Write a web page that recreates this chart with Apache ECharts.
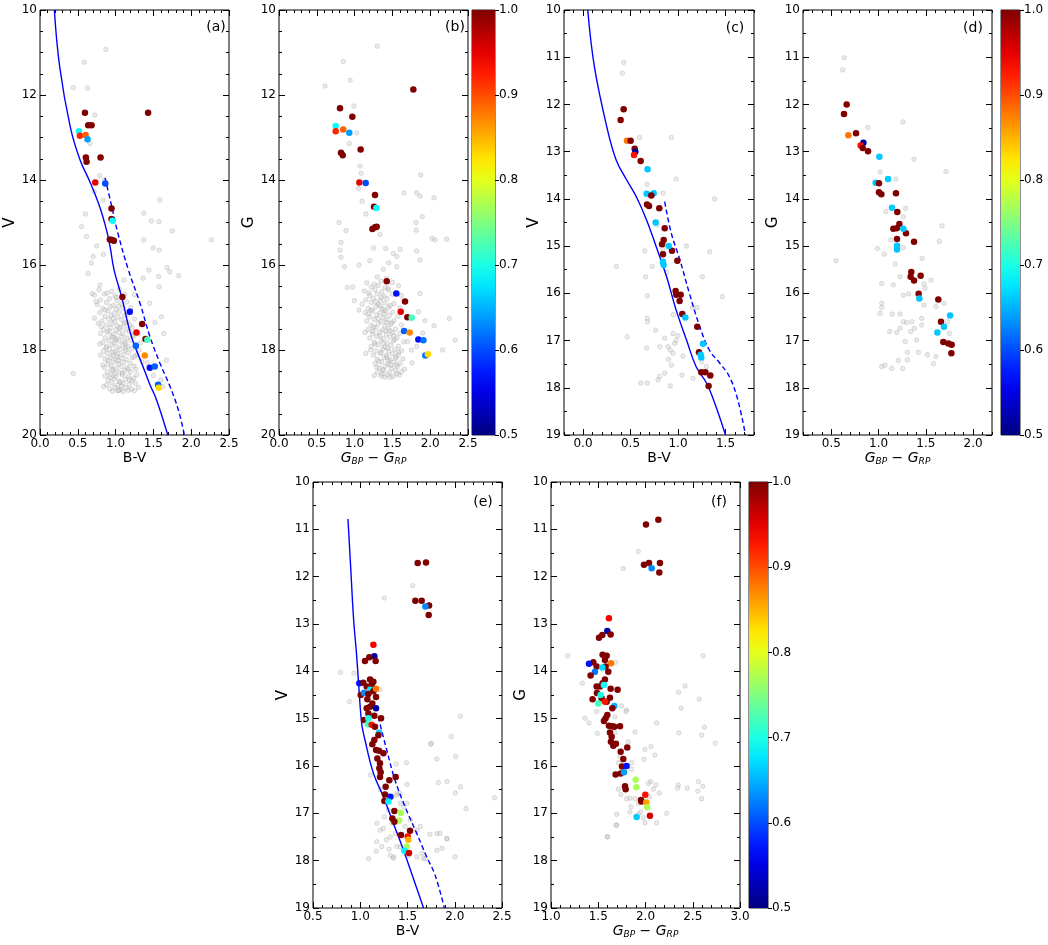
<!DOCTYPE html>
<html>
<head>
<meta charset="utf-8">
<script src="https://cdn.jsdelivr.net/npm/echarts@6.0.0/dist/echarts.min.js"></script>
<style>html,body{margin:0;padding:0;background:#fff}#chart{width:1048px;height:945px}</style>
</head>
<body>
<div id="chart"></div>
<script>
// ---- tick labels ----
var abXTicks = [0, 0.5, 1.0, 1.5, 2.0, 2.5];
var abYTicks = [10, 12, 14, 16, 18, 20];
var cXTicks = [0, 0.5, 1.0, 1.5];
var dXTicks = [0.5, 1.0, 1.5, 2.0];
var eXTicks = [0.5, 1.0, 1.5, 2.0, 2.5];
var fXTicks = [1.0, 1.5, 2.0, 2.5, 3.0];
var cdefYTicks = [10, 11, 12, 13, 14, 15, 16, 17, 18, 19];
var cbTicks = [0.5, 0.6, 0.7, 0.8, 0.9, 1.0];

// ---- panel (a) ----
var greyAField = [[0.87,10.93],[0.585,11.23],[0.44,11.83],[0.629,11.84],[0.726,12.47],[0.66,13.14],[0.79,13.9],[0.85,14.0],[0.836,14.47],[0.717,14.27],[0.55,15.1],[0.616,15.33],[0.704,15.8],[0.638,16.2],[0.792,16.47],[0.69,16.67],[0.44,18.55],[1.373,15.41],[1.496,15.6],[1.575,15.65],[1.364,16.31],[1.44,16.12],[1.57,16.27],[1.575,16.51],[1.606,17.22],[1.681,16.06],[1.716,16.16],[1.835,16.25],[1.585,14.47],[1.575,14.98],[1.474,14.96],[1.373,14.78],[2.267,15.41],[1.11,16.35],[1.637,17.61],[1.673,18.24],[1.628,18.86],[0.75,15.55],[0.68,15.95],[0.84,15.75],[0.6,14.8],[1.52,17.35],[1.45,16.9],[1.5,18.6],[1.42,18.3],[1.6,18.7],[1.25,16.7],[1.2,17.0],[1.75,15.2]];
var greyACore = [[0.78,16.58],[0.95,16.62],[1.05,16.57],[0.72,16.71],[0.85,16.68],[0.99,16.73],[1.12,16.69],[0.80,16.82],[0.92,16.79],[1.02,16.84],[0.76,16.93],[0.88,16.88],[0.97,16.95],[1.08,16.91],[1.15,16.87],[0.83,17.02],[0.93,16.98],[1.01,17.04],[1.10,17.01],[0.79,17.12],[0.90,17.08],[0.98,17.14],[1.05,17.11],[1.20,17.07],[0.86,17.21],[0.94,17.18],[1.03,17.23],[1.12,17.19],[0.82,17.32],[0.91,17.28],[0.99,17.33],[1.08,17.29],[1.16,17.34],[1.25,17.27],[0.88,17.41],[0.95,17.38],[1.02,17.43],[1.11,17.39],[1.19,17.42],[0.84,17.52],[0.93,17.48],[1.00,17.53],[1.06,17.49],[1.14,17.51],[1.22,17.47],[0.80,17.61],[0.89,17.58],[0.97,17.63],[1.04,17.59],[1.10,17.62],[1.18,17.57],[1.30,17.62],[0.86,17.71],[0.94,17.68],[1.01,17.73],[1.08,17.69],[1.15,17.72],[1.24,17.67],[0.83,17.82],[0.91,17.78],[0.98,17.83],[1.05,17.79],[1.12,17.81],[1.20,17.77],[1.33,17.83],[0.88,17.91],[0.95,17.88],[1.02,17.93],[1.09,17.89],[1.16,17.92],[1.26,17.88],[0.84,18.02],[0.92,17.98],[0.99,18.03],[1.06,17.99],[1.13,18.01],[1.21,17.97],[0.80,18.12],[0.89,18.08],[0.96,18.13],[1.03,18.09],[1.10,18.11],[1.17,18.07],[1.28,18.12],[0.86,18.21],[0.93,18.18],[1.00,18.23],[1.07,18.19],[1.14,18.22],[1.22,18.18],[0.90,18.32],[0.97,18.28],[1.04,18.33],[1.11,18.29],[1.19,18.31],[1.35,18.28],[0.85,18.41],[0.94,18.38],[1.01,18.43],[1.08,18.39],[1.15,18.42],[1.24,18.38],[0.89,18.52],[0.97,18.48],[1.05,18.53],[1.12,18.49],[1.20,18.51],[0.86,18.61],[0.93,18.58],[1.00,18.63],[1.09,18.59],[1.17,18.62],[1.28,18.58],[0.90,18.71],[0.98,18.68],[1.05,18.73],[1.13,18.69],[1.22,18.72],[0.88,18.82],[0.95,18.78],[1.02,18.83],[1.10,18.79],[1.18,18.81],[1.26,18.78],[0.92,18.91],[0.99,18.88],[1.06,18.93],[1.14,18.89],[1.21,18.92],[1.30,18.88],[0.96,18.97],[1.03,18.96],[1.10,18.98],[1.17,18.95]];
var greyACore2 = [[0.89,16.66],[1.01,16.76],[0.74,16.86],[1.04,16.97],[0.86,17.06],[1.15,17.16],[0.97,17.26],[0.77,17.37],[1.06,17.46],[0.91,17.55],[1.22,17.64],[1.00,17.76],[0.79,17.86],[1.13,17.95],[0.96,18.05],[1.25,18.15],[1.04,18.25],[0.83,18.35],[1.17,18.45],[0.99,18.56],[1.24,18.66],[1.06,18.76],[0.84,18.86],[1.25,18.96],[0.95,18.45],[1.08,18.85],[1.12,17.36],[0.87,17.95],[1.18,18.7],[0.93,18.65],[1.02,18.15],[1.09,18.55],[0.97,17.7],[1.13,17.85],[0.9,18.25],[1.04,18.95],[1.27,18.45],[0.81,17.45],[1.31,18.0],[0.72,17.25]];
var membersA = [[0.594,12.42,1],[1.43,12.42,1],[0.638,12.71,1],[0.682,12.71,1],[0.515,12.85,0.69],[0.528,12.96,0.92],[0.603,12.94,0.89],[0.629,13.04,0.64],[0.801,13.47,1],[0.607,13.47,1],[0.616,13.57,1],[0.731,14.06,0.95],[0.863,14.08,0.6],[0.946,14.67,1],[0.946,14.92,1],[0.96,14.96,0.69],[0.924,15.4,1],[0.955,15.41,1],[0.977,15.43,1],[1.09,16.75,1],[1.188,17.1,0.57],[1.351,17.39,1],[1.276,17.59,0.95],[1.395,17.74,1],[1.42,17.76,0.72],[1.268,17.9,0.61],[1.386,18.13,0.87],[1.452,18.42,0.57],[1.518,18.39,0.61],[1.562,18.82,0.61],[1.571,18.89,0.83]];
var isoA = [[0.19,10],[0.26,11.33],[0.40,12.75],[0.53,13.53],[0.66,14.04],[0.79,14.63],[0.88,15.18],[0.93,15.6],[0.98,16.12],[1.08,16.75],[1.21,17.69],[1.345,18.31],[1.446,18.78],[1.543,19.18],[1.69,20]];
var isoADash = [[0.86,13.95],[0.95,14.63],[1.03,15.25],[1.17,16.12],[1.323,16.9],[1.455,17.69],[1.587,18.31],[1.72,18.86],[1.83,19.41],[1.91,20]];

// ---- panel (b) ----
var greyBField = [[1.301,10.85],[0.85,11.21],[0.609,11.79],[0.94,11.65],[0.99,12.26],[1.028,12.89],[0.93,13.14],[1.072,13.67],[1.085,13.84],[1.821,14.3],[1.874,13.88],[1.865,14.38],[2.05,14.42],[1.896,14.86],[1.813,15.0],[1.654,14.3],[1.813,15.18],[2.024,15.37],[2.064,15.41],[2.218,15.39],[1.821,15.67],[1.865,15.88],[1.601,15.63],[1.557,15.8],[1.336,15.28],[0.794,15.0],[0.887,15.19],[0.82,15.47],[0.807,15.65],[0.82,15.82],[0.865,16.04],[1.059,16.0],[0.904,16.53],[0.975,16.52],[0.997,16.84],[1.059,17.06],[1.138,17.59],[1.147,18.08],[1.865,16.67],[1.843,17.1],[1.93,17.31],[2.05,17.43],[2.165,18.0],[2.254,17.26],[2.33,17.77],[1.82,17.92],[1.512,15.73],[1.557,16.04],[1.411,15.61],[1.2,15.9],[1.25,15.6],[1.45,15.95],[1.38,16.1],[1.7,17.8],[1.76,18.3],[1.9,17.6],[1.75,18.0],[1.66,18.45],[1.05,14.2],[1.1,14.5],[1.15,14.8]];
var greyBCore = [[1.30,16.28],[1.42,16.32],[1.16,16.42],[1.35,16.38],[1.50,16.41],[1.22,16.52],[1.31,16.48],[1.40,16.53],[1.58,16.49],[1.13,16.61],[1.27,16.58],[1.36,16.63],[1.45,16.59],[1.20,16.72],[1.30,16.68],[1.39,16.73],[1.50,16.69],[1.62,16.72],[1.15,16.82],[1.25,16.78],[1.34,16.83],[1.43,16.79],[1.10,16.92],[1.22,16.88],[1.31,16.93],[1.40,16.89],[1.52,16.91],[1.18,17.02],[1.28,16.98],[1.36,17.03],[1.45,16.99],[1.60,17.01],[1.14,17.12],[1.24,17.08],[1.33,17.13],[1.41,17.09],[1.50,17.11],[1.20,17.22],[1.29,17.18],[1.38,17.23],[1.46,17.19],[1.57,17.21],[1.16,17.32],[1.26,17.28],[1.35,17.33],[1.43,17.29],[1.52,17.31],[1.22,17.42],[1.31,17.38],[1.40,17.43],[1.48,17.39],[1.62,17.41],[1.18,17.52],[1.28,17.48],[1.37,17.53],[1.45,17.49],[1.54,17.51],[1.24,17.62],[1.33,17.58],[1.42,17.63],[1.50,17.59],[1.60,17.61],[1.20,17.72],[1.29,17.68],[1.38,17.73],[1.46,17.69],[1.56,17.71],[1.26,17.82],[1.35,17.78],[1.43,17.83],[1.51,17.79],[1.65,17.81],[1.22,17.92],[1.31,17.88],[1.40,17.93],[1.48,17.89],[1.58,17.91],[1.28,18.02],[1.37,17.98],[1.45,18.03],[1.53,17.99],[1.62,18.01],[1.25,18.12],[1.34,18.08],[1.42,18.13],[1.50,18.09],[1.58,18.11],[1.30,18.22],[1.39,18.18],[1.47,18.23],[1.55,18.19],[1.64,18.21],[1.27,18.32],[1.36,18.28],[1.44,18.33],[1.52,18.29],[1.60,18.31],[1.33,18.42],[1.41,18.38],[1.49,18.43],[1.57,18.39],[1.30,18.52],[1.38,18.48],[1.46,18.53],[1.54,18.49],[1.62,18.51],[1.35,18.61],[1.43,18.58],[1.51,18.62],[1.59,18.59]];
var greyBCore2 = [[1.26,16.45],[1.44,16.55],[1.19,16.66],[1.35,16.76],[1.28,16.86],[1.47,16.95],[1.22,17.06],[1.39,17.16],[1.31,17.26],[1.49,17.36],[1.25,17.46],[1.41,17.55],[1.33,17.66],[1.53,17.76],[1.27,17.86],[1.44,17.96],[1.35,18.06],[1.54,18.16],[1.32,18.26],[1.48,18.36],[1.37,18.46],[1.56,18.56],[1.40,18.64],[1.47,18.64],[1.29,18.4],[1.45,18.25],[1.38,17.85],[1.42,17.35],[1.34,16.96],[1.24,17.56],[1.58,18.05],[1.52,17.66],[1.18,17.15],[1.36,18.56],[1.43,18.17],[1.39,17.05],[1.47,17.55],[1.21,18.0],[1.26,18.6],[1.55,18.35]];
var membersB = [[1.777,11.87,1],[0.807,12.31,1],[0.97,12.51,1],[0.75,12.73,0.69],[0.75,12.85,0.92],[0.85,12.81,0.89],[0.93,12.89,0.64],[1.08,13.28,1],[0.82,13.36,1],[0.843,13.42,1],[1.063,14.06,0.95],[1.147,14.07,0.6],[1.27,14.35,1],[1.257,14.63,1],[1.288,14.66,0.69],[1.235,15.15,1],[1.27,15.11,1],[1.292,15.1,1],[1.425,16.38,1],[1.552,16.67,0.57],[1.667,16.86,1],[1.61,17.1,0.95],[1.698,17.23,1],[1.755,17.24,0.72],[1.654,17.55,0.61],[1.729,17.59,0.87],[1.843,17.75,0.57],[1.91,17.77,0.62],[1.936,18.13,0.62],[1.97,18.1,0.83]];

// ---- panel (c) ----
var greyC = [[0.428,11.11],[0.414,11.34],[0.596,12.7],[0.93,12.7],[0.982,13.58],[0.674,13.69],[0.842,13.88],[1.386,14.0],[0.351,15.43],[0.66,15.65],[0.73,15.43],[0.649,15.1],[0.842,15.07],[1.088,15.0],[1.333,15.12],[1.256,15.65],[1.466,16.07],[0.677,16.05],[0.677,16.53],[0.466,16.92],[0.67,17.16],[0.765,16.78],[0.807,17.13],[0.86,16.95],[0.895,17.13],[0.947,16.85],[0.965,17.06],[0.947,17.27],[0.93,17.52],[0.86,17.69],[0.807,17.76],[0.789,17.83],[0.919,17.96],[0.607,17.9],[0.677,17.9],[1.052,17.33],[1.042,17.73],[1.158,17.8],[0.68,16.6],[0.9,17.4],[0.95,16.45],[1.0,16.9],[1.15,16.3],[1.25,17.45],[1.3,17.55],[0.88,15.55],[0.78,14.55],[1.2,16.3],[0.98,17.0],[0.92,17.2]];
var membersC = [[0.428,12.1,1],[0.396,12.33,1],[0.463,12.77,0.88],[0.501,12.77,1],[0.544,12.94,1],[0.551,13.0,0.52],[0.537,13.07,0.93],[0.607,13.2,1],[0.68,13.37,0.66],[0.67,13.89,0.66],[0.744,13.88,0.66],[0.719,13.93,1],[0.674,14.12,1],[0.695,14.15,1],[0.803,14.2,1],[0.86,14.62,1],[0.765,14.5,0.66],[0.849,14.87,1],[0.832,14.96,1],[0.842,15.17,1],[0.937,15.1,1],[0.902,15.0,0.66],[0.842,15.33,0.66],[0.849,15.4,0.66],[0.993,15.31,1],[0.975,15.95,1],[0.982,16.03,1],[1.028,16.03,1],[1.017,16.16,1],[1.045,16.44,1],[1.077,16.51,0.66],[1.203,16.71,1],[1.263,17.07,0.66],[1.221,17.25,1],[1.238,17.3,0.66],[1.245,17.36,0.66],[1.245,17.67,1],[1.288,17.67,1],[1.34,17.74,1],[1.322,17.96,1]];
var isoC = [[0.05,10],[0.12,11.2],[0.25,12.47],[0.35,13.18],[0.46,13.6],[0.56,13.95],[0.67,14.45],[0.77,15.01],[0.88,15.65],[0.98,16.35],[1.09,16.99],[1.19,17.55],[1.30,17.9],[1.40,18.4],[1.50,19]];
var isoCDash = [[0.86,14.06],[0.93,14.73],[1.02,15.29],[1.12,16.0],[1.23,16.71],[1.33,17.2],[1.44,17.48],[1.54,17.76],[1.63,18.26],[1.71,19]];

// ---- panel (d) ----
var greyD = [[0.638,11.01],[0.62,11.27],[0.885,12.49],[1.258,12.37],[1.375,13.16],[1.713,13.42],[1.015,13.43],[1.184,13.58],[1.078,14.27],[1.287,14.2],[1.262,14.38],[1.671,14.57],[1.643,14.9],[1.128,14.87],[1.262,15.03],[0.987,15.05],[1.061,15.17],[0.549,15.31],[1.46,15.26],[1.174,15.38],[1.227,15.65],[1.033,15.79],[1.156,15.82],[1.481,15.8],[1.555,15.72],[1.491,15.89],[1.318,16.01],[1.262,16.04],[1.481,16.25],[1.033,16.21],[1.033,16.3],[1.015,16.42],[1.145,16.44],[1.227,16.44],[1.262,16.6],[1.297,16.62],[1.353,16.6],[1.378,16.74],[1.339,16.81],[1.227,16.74],[1.117,16.81],[1.192,16.83],[1.28,17.02],[1.403,16.99],[1.456,16.53],[1.456,16.67],[1.421,17.25],[1.304,17.25],[1.304,17.41],[1.516,17.3],[1.607,17.34],[1.58,17.49],[1.033,17.55],[1.068,17.52],[1.138,17.59],[1.209,17.42],[1.255,17.59],[1.607,16.28],[1.692,16.21],[1.728,16.6],[1.749,16.85]];
var membersD = [[0.662,12.0,1],[0.634,12.2,1],[0.68,12.65,0.88],[0.761,12.61,1],[0.839,12.81,0.52],[0.81,12.87,0.93],[0.832,12.92,1],[0.888,12.99,1],[1.008,13.11,0.66],[1.1,13.58,0.66],[0.969,13.66,0.66],[1.004,13.67,1],[1.004,13.86,1],[1.029,13.9,1],[1.184,13.88,1],[1.142,14.19,0.66],[1.198,14.28,1],[1.22,14.53,1],[1.192,14.62,1],[1.156,14.63,1],[1.29,14.73,1],[1.375,14.91,1],[1.195,14.85,1],[1.262,14.63,0.66],[1.195,14.99,0.66],[1.195,15.07,0.66],[1.346,15.55,1],[1.339,15.65,1],[1.445,15.63,1],[1.375,15.73,1],[1.424,16.01,1],[1.632,16.13,1],[1.66,16.6,1],[1.685,17.03,1],[1.738,17.06,1],[1.773,17.09,1],[1.77,17.27,1],[1.431,16.11,0.66],[1.756,16.47,0.66],[1.692,16.71,0.66],[1.622,16.83,0.66]];

// ---- panel (e) ----
var greyE = [[0.79,14.02],[0.885,14.64],[0.934,14.04],[1.255,12.45],[1.555,12.19],[2.06,14.95],[1.964,15.38],[1.752,15.52],[2.01,15.8],[1.81,15.85],[2.06,16.44],[2.006,16.57],[2.12,16.9],[1.918,16.33],[2.42,16.67],[1.81,17.43],[1.918,17.53],[1.81,17.78],[1.865,17.74],[2.003,17.92],[1.488,15.93],[1.495,16.39],[1.382,15.96],[1.16,14.79],[1.21,14.39],[1.107,16.19],[1.089,17.96],[1.17,17.8],[1.212,17.36],[1.255,17.08],[1.276,17.56],[1.318,17.89],[1.354,17.92],[1.424,17.71],[1.46,17.78],[1.512,17.89],[1.6,17.92],[1.654,17.85],[1.689,17.96],[1.424,16.79],[1.46,16.86],[1.53,17.14],[1.6,17.36],[1.636,17.28],[1.336,17.21],[1.294,16.93],[1.336,16.65],[1.389,16.58],[1.495,16.79],[1.212,16.5],[1.318,17.5],[1.371,17.43],[1.177,17.21],[1.745,15.54],[1.827,16.35],[1.738,17.44],[1.844,17.42],[1.915,17.54],[1.42,16.58],[1.385,16.62],[1.474,17.28],[1.245,17.32],[1.174,17.6],[1.227,17.7],[1.305,17.76],[1.386,17.7],[1.35,17.95],[1.668,17.95]];
var membersE = [[1.139,13.44,0.94],[1.149,13.68,0.52],[1.096,13.70,1],[1.05,13.78,1],[1.163,13.78,1],[0.99,14.25,0.57],[1.033,14.24,1],[1.005,14.5,1],[1.104,14.17,1],[1.139,14.22,1],[1.121,14.29,1],[1.068,14.32,1],[1.04,14.45,0.63],[1.104,14.39,0.68],[1.139,14.42,1],[1.167,14.37,0.88],[1.086,14.48,1],[1.167,14.54,1],[1.075,14.59,1],[1.128,14.68,1],[1.068,14.78,1],[1.104,14.75,1],[1.167,14.78,0.52],[1.086,14.89,1],[1.149,14.94,1],[1.22,14.99,1],[1.04,15.03,1],[1.086,14.99,0.7],[1.079,15.12,0.72],[1.121,15.13,0.93],[1.156,15.17,1],[1.199,15.3,0.66],[1.192,15.35,1],[1.149,15.45,1],[1.128,15.54,1],[1.167,15.66,1],[1.199,15.68,1],[1.245,15.73,1],[1.181,15.84,1],[1.209,15.94,1],[1.202,16.05,1],[1.216,16.13,1],[1.209,16.23,1],[1.375,16.23,1],[1.308,16.3,1],[1.269,16.44,1],[1.262,16.6,1],[1.318,16.65,0.57],[1.255,16.74,1],[1.298,16.75,0.68],[1.361,16.95,1],[1.428,16.99,0.77],[1.41,17.15,0.77],[1.34,17.11,1],[1.361,17.18,1],[1.527,17.37,1],[1.431,17.46,1],[1.502,17.49,0.93],[1.509,17.56,0.85],[1.491,17.7,0.77],[1.467,17.79,0.68],[1.516,17.84,0.96],[1.608,11.71,1],[1.696,11.70,1],[1.583,12.51,1],[1.65,12.51,1],[1.728,12.61,1],[1.689,12.63,0.63],[1.724,12.81,1]];
var isoE = [[0.87,10.78],[0.90,11.85],[0.93,12.91],[0.96,13.62],[0.98,14.18],[1.015,15.1],[1.05,15.45],[1.139,16.15],[1.245,16.65],[1.35,17.21],[1.456,17.77],[1.544,18.27],[1.67,19]];
var isoEDash = [[1.19,14.96],[1.28,15.66],[1.368,16.3],[1.474,16.86],[1.597,17.42],[1.703,17.92],[1.791,18.3],[1.89,19]];

// ---- panel (f) ----
var greyF = [[1.176,13.67],[1.331,14.25],[1.36,14.99],[1.402,15.09],[1.483,14.85],[1.49,15.31],[1.684,13.81],[1.924,11.47],[1.765,11.83],[2.61,13.67],[2.35,14.44],[2.418,14.31],[2.376,14.78],[2.57,14.59],[2.623,15.18],[2.594,15.35],[2.739,15.52],[2.351,15.3],[2.118,15.09],[1.995,15.65],[2.058,15.59],[2.1,15.77],[1.984,15.86],[2.055,16.33],[2.111,16.4],[2.146,16.57],[2.083,16.49],[2.224,17.0],[2.347,16.4],[2.34,16.47],[2.443,16.47],[2.56,16.33],[2.553,16.53],[2.605,16.43],[2.594,16.69],[2.118,17.2],[1.995,17.2],[1.695,17.02],[1.695,17.25],[1.596,17.5],[1.8,16.69],[1.836,16.97],[1.889,16.69],[1.765,15.93],[1.854,15.93],[1.924,16.79],[2.04,16.65],[1.949,16.97],[1.73,15.8],[1.677,15.3],[1.8,14.82],[1.677,14.96],[1.747,14.73],[1.793,14.85],[1.889,15.28],[1.818,15.49],[1.712,15.93],[1.853,16.07],[1.712,16.49],[1.74,16.6],[1.836,16.68],[2.03,16.37],[1.846,16.86],[1.924,17.02],[1.977,17.09],[1.688,17.25],[1.6,17.49]];
var membersF = [[1.613,12.88,0.94],[1.596,13.15,0.52],[1.631,13.22,1],[1.543,13.23,1],[1.508,13.29,1],[1.546,13.65,1],[1.589,13.67,1],[1.571,13.76,1],[1.448,13.81,1],[1.402,13.84,0.57],[1.635,13.83,0.88],[1.483,13.9,1],[1.578,13.9,1],[1.606,14.01,1],[1.543,13.92,0.67],[1.465,14.01,0.62],[1.419,14.09,1],[1.571,14.17,1],[1.546,14.25,1],[1.483,14.32,1],[1.518,14.32,1],[1.631,14.37,1],[1.705,14.39,1],[1.486,14.46,1],[1.624,14.56,1],[1.536,14.57,1],[1.44,14.59,1],[1.589,14.64,1],[1.56,14.29,0.69],[1.525,14.5,0.7],[1.5,14.68,0.72],[1.571,14.64,0.93],[1.67,14.73,0.65],[1.649,14.78,1],[1.596,14.92,1],[1.578,14.99,1],[1.56,15.05,1],[1.613,15.15,1],[1.649,15.16,1],[1.67,15.17,1],[1.73,15.16,1],[1.624,15.29,1],[1.642,15.38,1],[1.634,15.49,1],[1.659,15.57,1],[1.687,15.53,1],[1.807,15.61,1],[1.737,15.7,1],[1.765,15.85,1],[1.751,16.01,1],[1.684,16.18,1],[1.737,16.16,1],[1.783,16.43,1],[1.79,16.49,1],[1.8,16.0,0.57],[1.772,16.13,0.64],[1.896,16.29,0.77],[1.903,16.45,0.77],[1.998,16.61,0.93],[1.952,16.72,1],[1.956,16.75,1],[2.008,16.77,0.86],[2.019,16.87,0.77],[1.906,17.08,0.66],[2.047,17.05,0.96],[2.136,10.8,1],[2.005,10.9,1],[1.984,11.75,1],[2.037,11.71,1],[2.153,11.71,1],[2.146,11.91,1],[2.065,11.82,0.63]];

var FONT = 'DejaVu Sans';
var GBPRP = '{i|G}{s|BP}{m| \u2212 }{i|G}{s|RP}';

// matplotlib-like jet, t in [0,1]
function jet(t) {
	t = Math.max(0, Math.min(1, t));
	function c(v) { return Math.round(255 * Math.max(0, Math.min(1, v))); }
	return 'rgb(' + c(1.5 - Math.abs(4 * t - 3)) + ',' + c(1.5 - Math.abs(4 * t - 2)) + ',' + c(1.5 - Math.abs(4 * t - 1)) + ')';
}
function probColor(p) {
	return jet((p - cbTicks[0]) / (cbTicks[cbTicks.length - 1] - cbTicks[0]));
}

var grids = [], xAxes = [], yAxes = [], series = [], graphics = [];

function minorList(min, max, step) {
	var res = [];
	var n = Math.round((max - min) / step);
	for (var i = 0; i <= n; i++) res.push(Math.round((min + i * step) * 1000) / 1000);
	return res;
}

function axisDef(gi, pos, min, max, ticks, len, withLabel, inverse, fmt) {
	return {
		type: 'value', gridIndex: gi, position: pos, offset: 0,
		min: min, max: max, inverse: inverse,
		splitLine: {show: false}, axisLine: {show: false, onZero: false}, minorTick: {show: false},
		axisTick: {show: true, inside: true, length: len, customValues: ticks, lineStyle: {color: '#000', width: 1}},
		axisLabel: {show: withLabel, customValues: ticks, color: '#000', fontSize: 12, fontFamily: FONT, margin: 3, formatter: fmt}
	};
}

var richName = {
	i: {fontStyle: 'italic', fontSize: 14, fontFamily: FONT, color: '#000', lineHeight: 17},
	s: {fontStyle: 'italic', fontSize: 9, fontFamily: FONT, color: '#000', verticalAlign: 'bottom', lineHeight: 9},
	m: {fontSize: 14, fontFamily: FONT, color: '#000', lineHeight: 17}
};

function addPanel(p) {
	var gi = grids.length;
	grids.push({left: p.left, top: p.top, width: p.width, height: p.height, show: true,
		borderColor: '#000', borderWidth: 1, backgroundColor: 'transparent', containLabel: false, outerBoundsMode: 'none'});
	var fx = function (v) { return (+v).toFixed(1); };
	var fy = function (v) { return String(Math.round(v)); };
	var xMinor = minorList(p.xMin, p.xMax, p.xStep), yMinor = minorList(p.yMin, p.yMax, p.yStep);
	var xi = xAxes.length;
	var xb = axisDef(gi, 'bottom', p.xMin, p.xMax, p.xTicks, 6, true, false, fx);
	xb.name = p.xName; xb.nameLocation = 'middle'; xb.nameGap = 14;
	xb.nameTextStyle = {fontSize: 14, fontFamily: FONT, color: '#000', rich: richName};
	xAxes.push(xb);
	xAxes.push(axisDef(gi, 'bottom', p.xMin, p.xMax, xMinor, 3, false, false, fx));
	xAxes.push(axisDef(gi, 'top', p.xMin, p.xMax, p.xTicks, 6, false, false, fx));
	xAxes.push(axisDef(gi, 'top', p.xMin, p.xMax, xMinor, 3, false, false, fx));
	var yi = yAxes.length;
	var yl = axisDef(gi, 'left', p.yMin, p.yMax, p.yTicks, 6, true, true, fy);
	yl.name = p.yName; yl.nameLocation = 'middle'; yl.nameGap = p.yNameGap;
	yl.nameTextStyle = {fontSize: 15, fontFamily: FONT, color: '#000'};
	yAxes.push(yl);
	yAxes.push(axisDef(gi, 'left', p.yMin, p.yMax, yMinor, 3, false, true, fy));
	yAxes.push(axisDef(gi, 'right', p.yMin, p.yMax, p.yTicks, 6, false, true, fy));
	yAxes.push(axisDef(gi, 'right', p.yMin, p.yMax, yMinor, 3, false, true, fy));

	series.push({type: 'scatter', xAxisIndex: xi, yAxisIndex: yi, data: p.grey, symbolSize: 4.5, z: 2,
		itemStyle: {color: 'rgba(200,200,200,0.45)', borderColor: 'rgba(140,140,140,0.55)', borderWidth: 0.6}});
	if (p.iso) {
		series.push({type: 'line', xAxisIndex: xi, yAxisIndex: yi, data: p.iso, showSymbol: false, smooth: 0.4, z: 3,
			lineStyle: {color: '#0000ff', width: 1.4}});
		series.push({type: 'line', xAxisIndex: xi, yAxisIndex: yi, data: p.isoDash, showSymbol: false, smooth: 0.4, z: 3,
			lineStyle: {color: '#0000ff', width: 1.4, type: [5, 3]}});
	}
	series.push({type: 'scatter', xAxisIndex: xi, yAxisIndex: yi, data: p.members, symbolSize: 6.5, z: 4,
		itemStyle: {opacity: 1, color: function (d) { return probColor(d.value[2]); }}});

	graphics.push({type: 'text', x: p.tagX, y: p.tagY, z: 10,
		style: {text: p.tag, fontSize: 14, fontFamily: FONT, fill: '#000', align: 'center', verticalAlign: 'middle'}});
}

function addColorbar(c) {
	var gi = grids.length;
	grids.push({left: c.left, top: c.top, width: c.width, height: c.height, show: true,
		borderColor: '#222', borderWidth: 1, backgroundColor: 'transparent', containLabel: false, outerBoundsMode: 'none'});
	var xi = xAxes.length, yi = yAxes.length;
	xAxes.push({type: 'value', gridIndex: gi, min: 0, max: 1, show: false, axisLine: {onZero: false}});
	yAxes.push({type: 'value', gridIndex: gi, position: 'right', min: cbTicks[0], max: cbTicks[cbTicks.length - 1],
		splitLine: {show: false}, axisLine: {show: false, onZero: false},
		axisTick: {show: true, inside: false, length: 4, customValues: cbTicks, lineStyle: {color: '#000'}},
		axisLabel: {customValues: cbTicks, color: '#000', fontSize: 12, fontFamily: FONT, margin: 4,
			formatter: function (v) { return (+v).toFixed(1); }}});
	var stops = [];
	for (var i = 0; i <= 20; i++) stops.push({offset: i / 20, color: jet(1 - i / 20)});
	series.push({type: 'custom', xAxisIndex: xi, yAxisIndex: yi, z: 1,
		data: [[0, cbTicks[0], 1, cbTicks[cbTicks.length - 1]]],
		renderItem: function (params, api) {
			var p1 = api.coord([api.value(0), api.value(3)]);
			var p2 = api.coord([api.value(2), api.value(1)]);
			return {type: 'rect', shape: {x: p1[0], y: p1[1], width: p2[0] - p1[0], height: p2[1] - p1[1]},
				style: {fill: new echarts.graphic.LinearGradient(0, 0, 0, 1, stops)}};
		}});
}

addPanel({left: 40, top: 10, width: 189, height: 425, xMin: 0, xMax: 2.5, xTicks: abXTicks, xStep: 0.1,
	yMin: 10, yMax: 20, yTicks: abYTicks, yStep: 0.5, xName: 'B-V', yName: 'V', yNameGap: 17,
	grey: greyAField.concat(greyACore, greyACore2), members: membersA, iso: isoA, isoDash: isoADash, tag: '(a)', tagX: 216, tagY: 27});
addPanel({left: 279, top: 10, width: 189, height: 425, xMin: 0, xMax: 2.5, xTicks: abXTicks, xStep: 0.1,
	yMin: 10, yMax: 20, yTicks: abYTicks, yStep: 0.5, xName: GBPRP, yName: 'G', yNameGap: 22,
	grey: greyBField.concat(greyBCore, greyBCore2), members: membersB, tag: '(b)', tagX: 455, tagY: 27});
addPanel({left: 564, top: 10, width: 190, height: 425, xMin: -0.2, xMax: 1.8, xTicks: cXTicks, xStep: 0.1,
	yMin: 10, yMax: 19, yTicks: cdefYTicks, yStep: 0.5, xName: 'B-V', yName: 'V', yNameGap: 17,
	grey: greyC, members: membersC, iso: isoC, isoDash: isoCDash, tag: '(c)', tagX: 735, tagY: 28});
addPanel({left: 803, top: 10, width: 189, height: 425, xMin: 0.2, xMax: 2.2, xTicks: dXTicks, xStep: 0.1,
	yMin: 10, yMax: 19, yTicks: cdefYTicks, yStep: 0.5, xName: GBPRP, yName: 'G', yNameGap: 16,
	grey: greyD, members: membersD, tag: '(d)', tagX: 973, tagY: 28});
addPanel({left: 313, top: 482, width: 189, height: 426, xMin: 0.5, xMax: 2.5, xTicks: eXTicks, xStep: 0.1,
	yMin: 10, yMax: 19, yTicks: cdefYTicks, yStep: 0.5, xName: 'B-V', yName: 'V', yNameGap: 22,
	grey: greyE, members: membersE, iso: isoE, isoDash: isoEDash, tag: '(e)', tagX: 483, tagY: 502});
addPanel({left: 551, top: 482, width: 189, height: 426, xMin: 1.0, xMax: 3.0, xTicks: fXTicks, xStep: 0.1,
	yMin: 10, yMax: 19, yTicks: cdefYTicks, yStep: 0.5, xName: GBPRP, yName: 'G', yNameGap: 16,
	grey: greyF, members: membersF, tag: '(f)', tagX: 719, tagY: 502});

addColorbar({left: 472, top: 10, width: 23, height: 425});
addColorbar({left: 1001, top: 10, width: 19, height: 425});
addColorbar({left: 749, top: 482, width: 19, height: 426});

var myChart = echarts.init(document.getElementById('chart'), null, {renderer: 'canvas'});
myChart.setOption({
	animation: false,
	backgroundColor: '#fff',
	grid: grids,
	xAxis: xAxes,
	yAxis: yAxes,
	series: series,
	graphic: graphics
});
</script>
</body>
</html>
